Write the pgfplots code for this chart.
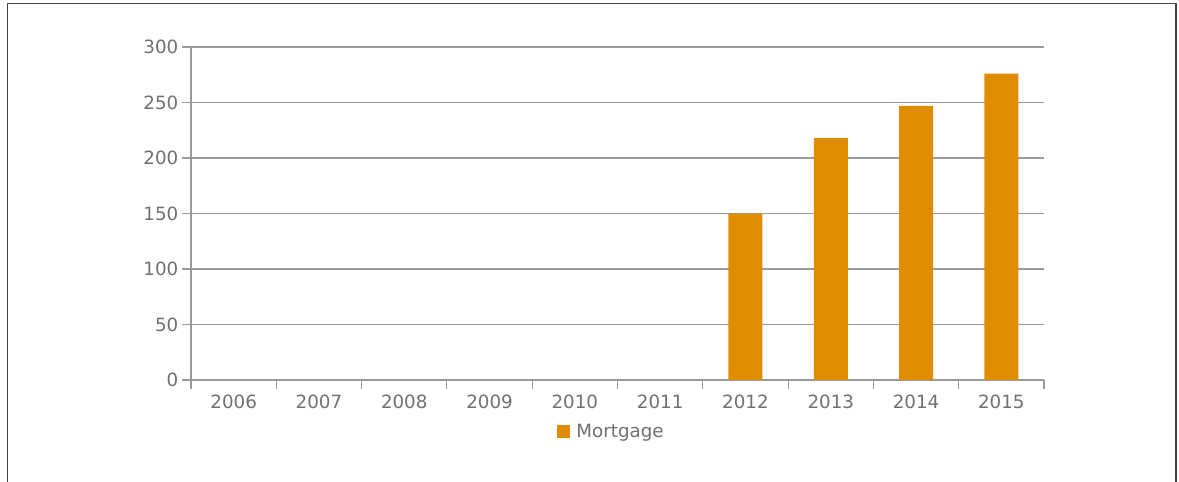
\documentclass[border=0pt]{standalone}
\usepackage{pgfplots}
\pgfplotsset{compat=1.18}
\usepackage{fontspec}
\setmainfont{DejaVu Sans}
\definecolor{barorange}{HTML}{E08C00}
\definecolor{txtgray}{HTML}{707070}
\definecolor{linegray}{HTML}{9A9A9A}
\definecolor{framegray}{HTML}{444444}

\begin{document}
\begin{tikzpicture}
% 1 px of the reference = 0.75pt
\useasboundingbox (0pt,0pt) rectangle (884.25pt,361.5pt);
% outer frame (open at the bottom)
\draw[framegray, line width=1.1pt] (5.6pt,0pt) -- (5.6pt,358.9pt) -- (882pt,358.9pt) -- (882pt,0pt);
\begin{axis}[
    at={(143.25pt,76.5pt)}, anchor=south west,
    scale only axis,
    width=639.75pt, height=249.75pt,
    ybar, bar width=25.5pt,
    xmin=-0.5, xmax=9.5,
    ymin=0, ymax=300,
    ytick={0,50,...,300},
    xtick={-0.5,0.5,...,9.5},
    x tick label as interval,
    xticklabels={2006,2007,2008,2009,2010,2011,2012,2013,2014,2015},
    axis x line*=bottom, axis y line*=left,
    axis line style={linegray, line width=1.1pt, -},
    ymajorgrids, grid style={linegray, line width=1.1pt},
    tick align=outside, major tick length=6.5pt,
    tick style={linegray, line width=0.8pt},
    ticklabel style={font=\fontsize{13.7}{16}\selectfont, text=txtgray},
    /pgf/number format/assume math mode=true,
    yticklabel style={xshift=0.5pt},
    xticklabel style={yshift=-1pt},
    legend style={at={(0.493,-0.156)}, anchor=center, draw=none,
        font=\fontsize{13.7}{16}\selectfont, text=txtgray},
    legend image code/.code={\fill[barorange] (0pt,-4.9pt) rectangle (9.8pt,4.9pt);},
]
% 2006-2011 are zero and draw nothing
\addplot[fill=barorange, draw=none] coordinates {
    (6,150) (7,218) (8,247) (9,276)
};
\addlegendentry{\hspace{3pt}Mortgage}
\end{axis}
\end{tikzpicture}
\end{document}
